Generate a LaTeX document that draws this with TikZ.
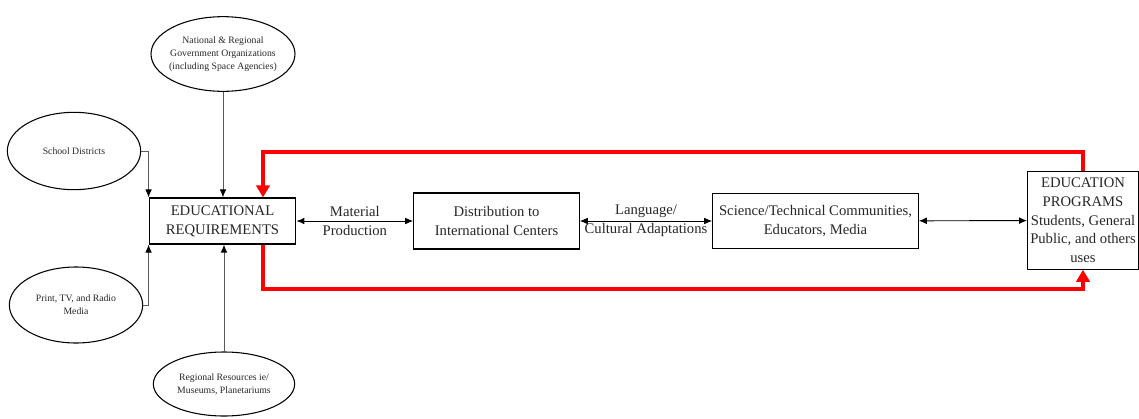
\documentclass[tikz,border=0pt]{standalone}
\usepackage{fontspec}
\setmainfont{Liberation Serif}
\usepackage{tikz}
\usetikzlibrary{arrows.meta,shapes.geometric}

\begin{document}
\begin{tikzpicture}[x=0.75pt,y=-0.75pt,
    box/.style={draw,line width=0.9pt,align=center,inner sep=1pt,text=black!85,font=\fontsize{11}{14}\selectfont},
    src/.style={draw,ellipse,line width=0.8pt,align=center,inner sep=-8pt,text=black!85,font=\fontsize{7.3}{9.7}\selectfont},
    feed/.style={draw=black!65,line width=0.7pt,-{Latex[black,length=6pt,width=5pt]}},
    link/.style={line width=0.7pt,{Latex[length=6pt,width=5pt]}-{Latex[length=6pt,width=5pt]}},
    back/.style={red,line width=2.8pt,-{Triangle[length=9pt,width=10pt]}}]
            \useasboundingbox (0,0) rectangle (1139,418);
            % sources
            \node[src,minimum width=108pt,minimum height=56pt] (nat) at (223,54) {National \& Regional\\Government Organizations\\(including Space Agencies)};
            \node[src,minimum width=100pt,minimum height=58pt] (sch) at (74,151) {School Districts};
            \node[src,minimum width=100pt,minimum height=57pt] (prt) at (76,305) {Print, TV, and Radio\\Media};
            \node[src,minimum width=106pt,minimum height=48pt] (reg) at (224,384) {Regional Resources ie/\\Museums, Planetariums};
            % main chain
            \node[box,minimum width=110pt,minimum height=34.5pt] (req) at (222.5,221) {EDUCATIONAL\\REQUIREMENTS};
            \node[box,minimum width=124pt,minimum height=42pt] (dist) at (496.5,221) {Distribution to\\International Centers};
            \node[box,minimum width=154pt,minimum height=41pt] (sci) at (815.5,221) {Science/Technical Communities,\\Educators, Media};
            \node[box,minimum width=83pt,minimum height=73pt] (prog) at (1083,220.5) {EDUCATION\\PROGRAMS\\Students, General\\Public, and others\\uses};
            \draw[feed] (sch.east) -| (req.north west);
            \draw[feed] (nat.south) -- (nat.south |- req.north);
            \draw[feed] (prt.east) -| (req.south west);
            \draw[feed] (reg.north) -- (reg.north |- req.south);
            \draw[link] (req) -- node[align=center,text=black!85,font=\fontsize{11}{14}\selectfont] {Material\\Production} (dist);
            \draw[link] (dist) -- node[align=center,text=black!85,font=\fontsize{11}{14}\selectfont] {Language/\\Cultural Adaptations} (sci);
            \draw[link] (sci) -- (prog);
            % feedback loop
            \coordinate (topA) at (263,152);
            \coordinate (botA) at (263,289);
            \draw[back] (prog.north) |- (topA) -- (topA |- req.north);
            \draw[back] (botA |- req.south) -- (botA) -| (prog.south);
        \end{tikzpicture}
\end{document}
